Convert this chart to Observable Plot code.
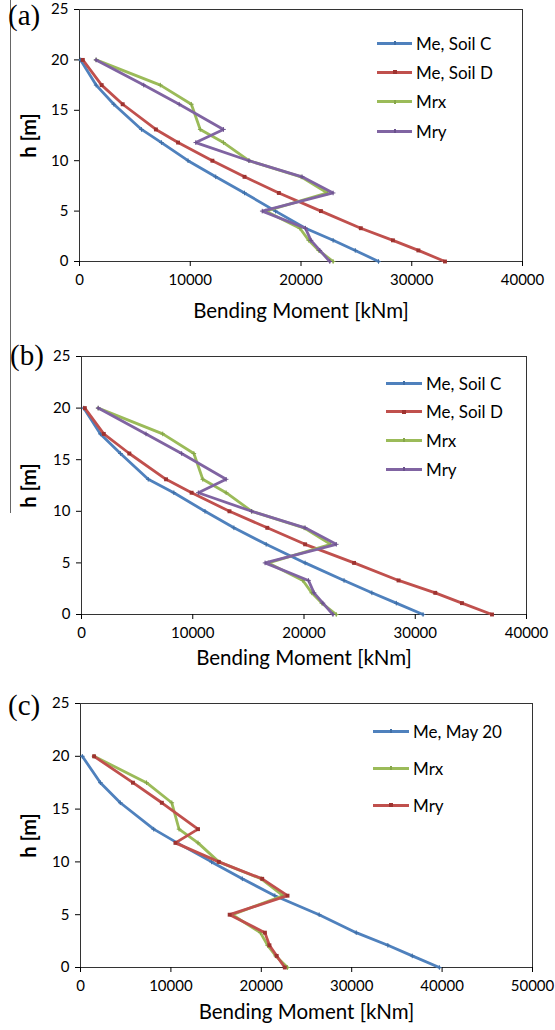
<!DOCTYPE html>
<html><head><meta charset="utf-8">
<script src="https://cdn.jsdelivr.net/npm/d3@7"></script>
<script src="https://cdn.jsdelivr.net/npm/@observablehq/plot@0.6"></script>
<style>
body{margin:0;background:#fff;}
#root{position:relative;width:555px;height:1030px;overflow:hidden;font-family:Lato,sans-serif;color:#000;}
.panel{position:absolute;left:0;}
.plab{position:absolute;font-family:"Liberation Serif",serif;font-size:29px;line-height:1;}
.leg{position:absolute;font-size:17px;display:flex;align-items:center;height:20px;white-space:nowrap;}
.leg .sw{display:inline-block;height:3px;margin-right:4px;position:relative;}
.leg .mk{position:absolute;left:50%;top:50%;width:4px;height:4px;margin:-2px 0 0 -2px;}
.artifact{position:absolute;left:10px;top:0;width:1px;height:513px;background:#666;}
svg [aria-label="y-axis label"]{font-weight:bold;font-size:20px;}
svg [aria-label="x-axis label"]{font-size:20.5px;}
</style></head>
<body><div id="root"><div class="artifact"></div></div>
<script>
// heights of the section points [m]
const H = [20, 17.5, 15.6, 13.1, 11.8, 10, 8.4, 6.8, 5, 3.3, 2.1, 1.1, 0];
// bending moments [kNm]
const mrx = [1500, 7300, 10100, 10900, 13000, 15300, 20000, 22400, 16800, 19900, 20700, 21600, 22900];
const mry = [1500, 5800, 9000, 13000, 10500, 15300, 20100, 22900, 16500, 20400, 20900, 21700, 22600];
const aSoilC = [100, 1500, 3100, 5600, 7400, 9800, 12300, 14900, 17700, 20400, 22900, 24900, 27000];
const aSoilD = [300, 2000, 3900, 6900, 8900, 12000, 14900, 18000, 21800, 25400, 28300, 30600, 33000];
const bSoilC = [200, 1700, 3500, 6000, 8300, 11100, 13700, 16600, 20100, 23600, 26100, 28300, 30700];
const bSoilD = [300, 2000, 4300, 7600, 9900, 13300, 16700, 20100, 24500, 28500, 31800, 34200, 36900];
const cMay20 = [200, 2200, 4400, 8100, 10700, 14500, 17900, 21500, 26400, 30500, 34000, 36700, 39700];

const yTicks = [0, 5, 10, 15, 20, 25];
const xTicks40 = [0, 10000, 20000, 30000, 40000];
const xTicks50 = [0, 10000, 20000, 30000, 40000, 50000];

const BLUE = "#4F81BD", RED = "#C0504D", GREEN = "#9BBB59", PURPLE = "#8064A2";
const DARK = {[BLUE]: "#3f6ea5", [RED]: "#9e3330", [GREEN]: "#86a64a", [PURPLE]: "#6a518c"};

const panels = [
  {label: "(a)", top: 0, height: 340, mt: 9, mb: 79, ml: 79, mr: 33, xmax: 40000, xt: xTicks40,
   labelPos: [8, 1], yLabOff: 58, xLabOff: 56,
   legend: {x: 377, w: 35, y0: 33, dy: 29.4},
   series: [["Me, Soil C", aSoilC, BLUE], ["Me, Soil D", aSoilD, RED], ["Mrx", mrx, GREEN], ["Mry", mry, PURPLE]]},
  {label: "(b)", top: 340, height: 345, mt: 16, mb: 71, ml: 81, mr: 29, xmax: 40000, xt: xTicks40,
   labelPos: [10, 341], yLabOff: 60, xLabOff: 50,
   legend: {x: 386, w: 36, y0: 373, dy: 28.7},
   series: [["Me, Soil C", bSoilC, BLUE], ["Me, Soil D", bSoilD, RED], ["Mrx", mrx, GREEN], ["Mry", mry, PURPLE]]},
  {label: "(c)", top: 690, height: 340, mt: 13, mb: 63, ml: 80, mr: 23, xmax: 50000, xt: xTicks50,
   labelPos: [8, 691], yLabOff: 59, xLabOff: 51,
   legend: {x: 373, w: 36, y0: 721, dy: 37},
   series: [["Me, May 20", cMay20, BLUE], ["Mrx", mrx, GREEN], ["Mry", mry, RED]]}
];

const root = document.getElementById("root");

for (const p of panels) {
  const marks = [
    Plot.frame({stroke: "#333", strokeWidth: 1}),
    Plot.axisY({ticks: yTicks, tickSize: 5, tickPadding: 6, fontSize: 15,
      label: "h [m]", labelAnchor: "center", labelOffset: p.yLabOff, labelArrow: "none"}),
    Plot.axisX({ticks: p.xt, tickSize: 5, tickPadding: 8, fontSize: 15, tickFormat: d => String(d),
      label: "Bending Moment [kNm]", labelAnchor: "center", labelOffset: p.xLabOff, labelArrow: "none"})
  ];
  for (const [name, vals, color] of p.series) {
    const data = vals.map((m, i) => ({m, h: H[i]}));
    marks.push(Plot.line(data, {x: "m", y: "h", stroke: color, strokeWidth: 2.8, strokeLinejoin: "miter"}));
    marks.push(Plot.dot(data, {x: "m", y: "h", symbol: color === RED ? "square" : "plus",
      r: color === RED ? 2.2 : 1.6, fill: DARK[color], stroke: color === RED ? "none" : DARK[color], strokeWidth: 1}));
  }
  const svg = Plot.plot({
    width: 555, height: p.height,
    marginTop: p.mt, marginBottom: p.mb, marginLeft: p.ml, marginRight: p.mr,
    style: {fontFamily: "Lato, sans-serif", fontSize: "15px", color: "#000", background: "transparent", overflow: "visible"},
    x: {domain: [0, p.xmax]},
    y: {domain: [0, 25]},
    marks
  });
  svg.classList.add("panel");
  svg.style.top = p.top + "px";
  root.appendChild(svg);

  const lab = document.createElement("div");
  lab.className = "plab";
  lab.textContent = p.label;
  lab.style.left = p.labelPos[0] + "px";
  lab.style.top = p.labelPos[1] + "px";
  root.appendChild(lab);

  p.series.forEach(([name, , color], i) => {
    const d = document.createElement("div");
    d.className = "leg";
    d.style.left = p.legend.x + "px";
    d.style.top = (p.legend.y0 + i * p.legend.dy) + "px";
    const sw = document.createElement("span");
    sw.className = "sw";
    sw.style.width = p.legend.w + "px";
    sw.style.background = color;
    const mk = document.createElement("span");
    mk.className = "mk";
    mk.style.background = DARK[color];
    if (color !== RED) { mk.style.width = "2px"; mk.style.marginLeft = "-1px"; }
    sw.appendChild(mk);
    d.appendChild(sw);
    d.appendChild(document.createTextNode(name));
    root.appendChild(d);
  });
}
</script></body></html>
